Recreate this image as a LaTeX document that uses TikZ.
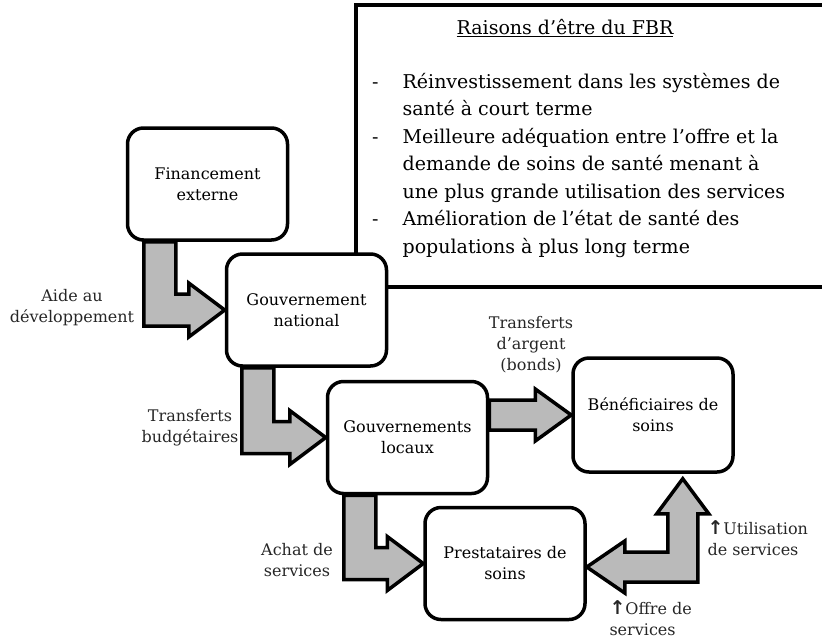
\documentclass[tikz,border=0pt]{standalone}
\usepackage{fontspec}
\setmainfont{DejaVu Serif}
\newfontfamily\arrowfont{DejaVu Sans}
\usetikzlibrary{calc}
\tikzset{
  box/.style={draw, line width=3.5pt, rounded corners=16pt, fill=white, minimum width=160pt, minimum height=112pt, align=center, font=\fontsize{16}{21}\selectfont},
  blockarrow/.style={draw, line width=3.5pt, fill=black!27, line join=miter},
  lbl/.style={align=center, font=\fontsize{16}{21}\selectfont, text=black!85}
}
% L-shaped block arrow: #1 source box, #2 target box, #3 shaft offset
\newcommand{\elbowarrow}[3]{%
  \draw[blockarrow] let \p1=(#1.south west), \p2=(#2.west) in
    (\x1+#3,\y1) -- (\x1+#3,\y2-16pt) -- (\x2-36pt,\y2-16pt) -- (\x2-36pt,\y2-27pt)
    -- (\x2,\y2) -- (\x2-36pt,\y2+27pt) -- (\x2-36pt,\y2+16pt)
    -- (\x1+#3+32pt,\y2+16pt) -- (\x1+#3+32pt,\y1) -- cycle;}

\begin{document}
\begin{tikzpicture}[x=1pt, y=-1pt]
\useasboundingbox (0,0) rectangle (822,638);
% FBR box
\draw[line width=3.5pt] (822,5) -- (356,5) -- (356,287) -- (822,287);
\node[font=\fontsize{19}{27.5}\selectfont] (titre) at (565,28) {\underline{Raisons d’être du FBR}};
\node[anchor=north west, inner sep=0pt, font=\fontsize{19}{27.5}\selectfont] (raisons) at (372,69) {%
\begin{tabular}{@{}l@{\hspace{24pt}}l@{}}
- & Réinvestissement dans les systèmes de \\
  & santé à court terme \\
- & Meilleure adéquation entre l’offre et la \\
  & demande de soins de santé menant à \\
  & une plus grande utilisation des services \\
- & Amélioration de l’état de santé des \\
  & populations à plus long terme
\end{tabular}};
% boxes
\node[box] (fin) at (207.5,184) {Financement\\externe};
\node[box] (gn) at (306.5,310) {Gouvernement\\national};
\node[box] (gl) at (407.5,437.5) {Gouvernements\\locaux};
\node[box, minimum height=114pt] (ben) at (653,415) {Bénéficiaires de\\soins};
\node[box] (prest) at (505,563.5) {Prestataires de\\soins};
% arrows
\elbowarrow{fin}{gn}{18pt}
\elbowarrow{gn}{gl}{17pt}
\elbowarrow{gl}{prest}{18pt}
\draw[blockarrow] let \p1=(gl.east), \p2=(ben.west) in
  (\x1,\y2+15pt) -- (\x2-36pt,\y2+15pt) -- (\x2-36pt,\y2+26pt) -- (\x2,\y2)
  -- (\x2-36pt,\y2-26pt) -- (\x2-36pt,\y2-15pt) -- (\x1,\y2-15pt) -- cycle;
\draw[blockarrow] let \p1=(prest.east), \p2=(ben.south east) in
  (\x1,\y1-3.5pt) -- (\x1+38pt,\y1+22.5pt) -- (\x1+38pt,\y1+11.5pt) -- (\x2-67pt,\y1+11.5pt)
  -- (\x2-67pt,\y2-40pt) -- (\x2-78pt,\y2-40pt) -- (\x2-52pt,\y2-5pt) -- (\x2-26pt,\y2-40pt)
  -- (\x2-37pt,\y2-40pt) -- (\x2-37pt,\y1-18.5pt) -- (\x1+38pt,\y1-18.5pt) -- (\x1+38pt,\y1-29.5pt) -- cycle;
% labels
\node[lbl] (aide) at (72,308) {Aide au\\développement};
\node[lbl] (budget) at (190,428) {Transferts\\budgétaires};
\node[lbl] (argent) at (531,345) {Transferts\\d’argent\\(bonds)};
\node[lbl] (achat) at (297,560) {Achat de\\services};
\node[lbl, align=left, anchor=west] (util) at (704,538) {{\arrowfont\bfseries\fontsize{19}{21}\selectfont ↑}Utilisation\\de services};
\node[lbl, align=left, anchor=west] (offre) at (606,618) {{\arrowfont\bfseries\fontsize{19}{21}\selectfont ↑}Offre de\\services};
\end{tikzpicture}
\end{document}
